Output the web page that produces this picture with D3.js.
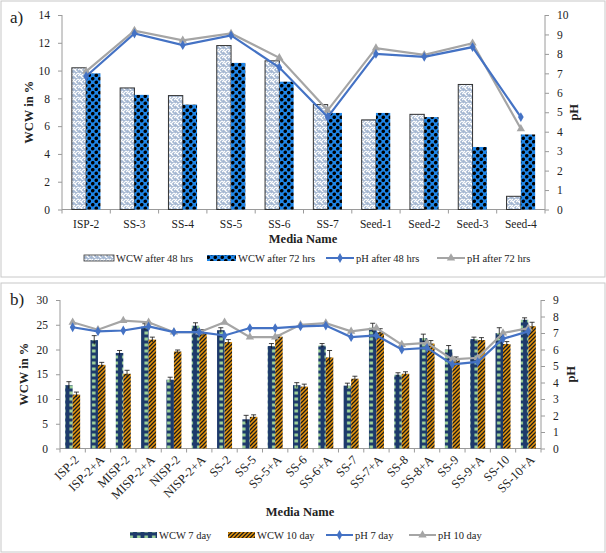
<!DOCTYPE html>
<html lang="en">
<head>
<meta charset="UTF-8">
<title>WCW and pH</title>
<script src="https://cdnjs.cloudflare.com/ajax/libs/d3/7.8.5/d3.min.js"></script>
<style>
    * { margin: 0; padding: 0; box-sizing: border-box; }
    body { background: #ffffff; width: 606px; height: 553px; overflow: hidden; }
    svg text { font-family: "Liberation Serif", "DejaVu Serif", serif; fill: #222; }
    .axis path, .axis line { stroke: #9a9a9a; }
</style>
</head>
<body>
<svg id="chart" width="606" height="553"></svg>
<script>
    // Panel a data
    const mediaA = ["ISP-2", "SS-3", "SS-4", "SS-5", "SS-6", "SS-7", "Seed-1", "Seed-2", "Seed-3", "Seed-4"];
    const wcw48 = [10.2, 8.75, 8.2, 11.8, 10.7, 7.55, 6.45, 6.85, 9.0, 0.95];
    const wcw72 = [9.8, 8.25, 7.55, 10.55, 9.2, 6.95, 6.95, 6.65, 4.5, 5.4];
    const ph48 = [6.85, 9.05, 8.45, 8.95, 7.3, 4.75, 8.0, 7.85, 8.35, 4.75];
    const ph72 = [7.1, 9.2, 8.7, 9.05, 7.8, 5.1, 8.3, 7.95, 8.55, 4.15];
    const leftTicksA = [0, 2, 4, 6, 8, 10, 12, 14];
    const rightTicksA = [0, 1, 2, 3, 4, 5, 6, 7, 8, 9, 10];

    // Panel b data
    const mediaB = ["ISP-2", "ISP-2+A", "MISP-2", "MISP-2+A", "NISP-2", "NISP-2+A", "SS-2", "SS-5", "SS-5+A",
        "SS-6", "SS-6+A", "SS-7", "SS-7+A", "SS-8", "SS-8+A", "SS-9", "SS-9+A", "SS-10", "SS-10+A"];
    const wcw7 = [12.8, 21.9, 19.3, 24.6, 13.9, 24.8, 23.9, 5.9, 20.7, 12.8, 20.8, 12.7, 24.4, 14.9, 22.3, 20.0, 22.1, 23.3, 26.0];
    const wcw10 = [10.9, 16.9, 15.1, 22.0, 19.6, 23.4, 21.5, 6.4, 22.6, 12.5, 18.4, 14.1, 23.5, 15.1, 21.2, 17.8, 21.9, 21.1, 24.7];
    const err7 = [0.7, 0.9, 0.5, 0.6, 0.5, 0.6, 0.5, 0.8, 0.5, 0.5, 0.4, 0.5, 0.9, 0.4, 0.8, 0.8, 0.4, 1.1, 0.4];
    const err10 = [0.5, 0.5, 0.7, 0.5, 0.3, 0.6, 0.5, 0.4, 0.3, 0.5, 1.4, 0.5, 0.7, 0.4, 0.6, 0.7, 0.5, 0.5, 0.8];
    const ph7 = [7.35, 7.1, 7.15, 7.4, 7.05, 7.05, 6.85, 7.3, 7.3, 7.4, 7.45, 6.75, 6.85, 6.0, 6.1, 5.1, 5.25, 6.65, 7.1];
    const ph10 = [7.65, 7.2, 7.75, 7.65, 7.05, 7.05, 7.65, 6.75, 6.75, 7.5, 7.6, 7.1, 7.3, 6.3, 6.4, 5.4, 5.5, 7.0, 7.3];
    const leftTicksB = [0, 5, 10, 15, 20, 25, 30];
    const rightTicksB = [0, 1, 2, 3, 4, 5, 6, 7, 8, 9];

    const svg = d3.select("#chart");
    const defs = svg.append("defs");

    // Fill patterns
    const pZig = defs.append("pattern").attr("id", "zig").attr("patternUnits", "userSpaceOnUse")
        .attr("width", 6).attr("height", 6);
    pZig.append("rect").attr("width", 6).attr("height", 6).attr("fill", "#a6b8d2");
    pZig.append("path").attr("d", "M0,1 L3,4 L6,1 M0,4 L3,1 M3,4 L6,7").attr("stroke", "#ffffff")
        .attr("stroke-width", 1.2).attr("fill", "none");

    const pDot = defs.append("pattern").attr("id", "dotblue").attr("patternUnits", "userSpaceOnUse")
        .attr("width", 7).attr("height", 7);
    pDot.append("rect").attr("width", 7).attr("height", 7).attr("fill", "#1f86e8");
    pDot.append("circle").attr("cx", 1.75).attr("cy", 1.75).attr("r", 1.8).attr("fill", "#000");
    pDot.append("circle").attr("cx", 5.25).attr("cy", 5.25).attr("r", 1.8).attr("fill", "#000");

    const pNavy = defs.append("pattern").attr("id", "navy").attr("patternUnits", "userSpaceOnUse")
        .attr("width", 7.5).attr("height", 6);
    pNavy.append("rect").attr("width", 7.5).attr("height", 6).attr("fill", "#1d3a6b");
    pNavy.append("rect").attr("x", 2).attr("y", 1.5).attr("width", 3.5).attr("height", 3).attr("fill", "#9fd39a");

    const pHatch = defs.append("pattern").attr("id", "hatch").attr("patternUnits", "userSpaceOnUse")
        .attr("width", 4).attr("height", 4);
    pHatch.append("rect").attr("width", 4).attr("height", 4).attr("fill", "#e8960c");
    pHatch.append("path").attr("d", "M-1,1 L1,-1 M0,4 L4,0 M3,5 L5,3").attr("stroke", "#1a1a1a").attr("stroke-width", 1.3);

    // Panel frames
    svg.append("rect").attr("x", 1).attr("y", 1).attr("width", 604).attr("height", 276)
        .attr("fill", "none").attr("stroke", "#c8c8c8");
    svg.append("rect").attr("x", 1).attr("y", 283).attr("width", 604).attr("height", 269)
        .attr("fill", "none").attr("stroke", "#c8c8c8");

    function diamond(g, x, y, color) {
        g.append("path").attr("d", d3.symbol(d3.symbolDiamond, 28)())
            .attr("transform", `translate(${x},${y})`).attr("fill", color);
    }
    function triangle(g, x, y, color) {
        g.append("path").attr("d", d3.symbol(d3.symbolTriangle, 30)())
            .attr("transform", `translate(${x},${y})`).attr("fill", color);
    }

    function drawPanel(cfg) {
        const g = svg.append("g");
        const x = d3.scaleBand().domain(cfg.cats).range([cfg.x0, cfg.x1]);
        const yL = d3.scaleLinear().domain(cfg.leftDomain).range([cfg.y1, cfg.y0]);
        const yR = d3.scaleLinear().domain(cfg.rightDomain).range([cfg.y1, cfg.y0]);
        const bw = cfg.barW;

        // Axes
        const axL = g.append("g").attr("class", "axis").attr("transform", `translate(${cfg.x0},0)`)
            .call(d3.axisLeft(yL).tickValues(cfg.leftTicks).tickSize(4).tickPadding(8));
        const axR = g.append("g").attr("class", "axis").attr("transform", `translate(${cfg.x1},0)`)
            .call(d3.axisRight(yR).tickValues(cfg.rightTicks).tickSize(4).tickPadding(8));
        [axL, axR].forEach(a => {
            a.select(".domain").attr("d", `M0,${cfg.y0}V${cfg.y1}`);
            a.selectAll("text").style("font-size", cfg.tickFont + "px").attr("fill", "#222");
        });

        // x axis line + boundary ticks
        g.append("line").attr("x1", cfg.x0).attr("x2", cfg.x1).attr("y1", cfg.y1).attr("y2", cfg.y1)
            .attr("stroke", "#9a9a9a");
        const bounds = cfg.cats.map(c => x(c)).concat([cfg.x1]);
        g.selectAll(".bt").data(bounds).enter().append("line")
            .attr("x1", d => d).attr("x2", d => d).attr("y1", cfg.y1).attr("y2", cfg.y1 + 4)
            .attr("stroke", "#9a9a9a");

        // Bars
        const s1 = cfg.bars[0], s2 = cfg.bars[1];
        cfg.cats.forEach((c, i) => {
            const cx = x(c) + x.bandwidth() / 2;
            g.append("rect").attr("x", cx - bw).attr("y", yL(s1.values[i])).attr("width", bw)
                .attr("height", yL(0) - yL(s1.values[i])).attr("fill", `url(#${s1.pattern})`)
                .attr("stroke", s1.stroke).attr("stroke-width", s1.stroke === "none" ? 0 : 1);
            g.append("rect").attr("x", cx).attr("y", yL(s2.values[i])).attr("width", bw)
                .attr("height", yL(0) - yL(s2.values[i])).attr("fill", `url(#${s2.pattern})`)
                .attr("stroke", s2.stroke).attr("stroke-width", s2.stroke === "none" ? 0 : 1);
        });

        // Error bars
        if (cfg.errors) {
            cfg.errors.forEach((errs, k) => {
                cfg.cats.forEach((c, i) => {
                    const cx = x(c) + x.bandwidth() / 2 + (k === 0 ? -bw / 2 : bw / 2);
                    const v = cfg.bars[k].values[i];
                    const top = yL(v + errs[i]), bot = yL(v - errs[i]);
                    g.append("line").attr("x1", cx).attr("x2", cx).attr("y1", top).attr("y2", bot)
                        .attr("stroke", "#111").attr("stroke-width", 0.8);
                    g.append("line").attr("x1", cx - 2.5).attr("x2", cx + 2.5).attr("y1", top).attr("y2", top)
                        .attr("stroke", "#111").attr("stroke-width", 0.8);
                });
            });
        }

        // pH lines (second one drawn first so blue sits on top like the reference)
        const line = d3.line().x((d, i) => x(cfg.cats[i]) + x.bandwidth() / 2).y(d => yR(d));
        const l2 = cfg.lines[1], l1 = cfg.lines[0];
        g.append("path").datum(l2.values).attr("d", line).attr("fill", "none")
            .attr("stroke", l2.color).attr("stroke-width", 2.2);
        l2.values.forEach((v, i) => triangle(g, x(cfg.cats[i]) + x.bandwidth() / 2, yR(v), l2.color));
        g.append("path").datum(l1.values).attr("d", line).attr("fill", "none")
            .attr("stroke", l1.color).attr("stroke-width", 2.2);
        l1.values.forEach((v, i) => diamond(g, x(cfg.cats[i]) + x.bandwidth() / 2, yR(v), l1.color));

        // Category labels
        if (cfg.rotate) {
            cfg.cats.forEach(c => {
                const cx = x(c) + x.bandwidth() / 2;
                g.append("text").attr("transform", `translate(${cx + 4},${cfg.y1 + 9}) rotate(-45)`)
                    .attr("text-anchor", "end").attr("dy", "0.35em").style("font-size", cfg.catFont + "px").text(c);
            });
        } else {
            cfg.cats.forEach(c => {
                g.append("text").attr("x", x(c) + x.bandwidth() / 2).attr("y", cfg.y1 + 18)
                    .attr("text-anchor", "middle").style("font-size", cfg.catFont + "px").text(c);
            });
        }

        // Titles
        g.append("text").attr("x", cfg.titleX).attr("y", cfg.titleY).attr("text-anchor", "middle")
            .style("font-size", "12.5px").style("font-weight", "bold").text("Media Name");
        g.append("text").attr("transform", `translate(${cfg.yTitleLX},${(cfg.y0 + cfg.y1) / 2}) rotate(-90)`)
            .attr("text-anchor", "middle").style("font-size", "12.5px").style("font-weight", "bold").text("WCW in %");
        g.append("text").attr("transform", `translate(${cfg.yTitleRX},${(cfg.y0 + cfg.y1) / 2}) rotate(-90)`)
            .attr("text-anchor", "middle").style("font-size", "12.5px").style("font-weight", "bold").text("pH");
        g.append("text").attr("x", cfg.tagX).attr("y", cfg.tagY).style("font-size", "17px").text(cfg.tag);

        // Legend
        const lg = g.append("g");
        const ly = cfg.legendY;
        cfg.legend.forEach(item => {
            const lx = item.x;
            if (item.type === "bar") {
                lg.append("rect").attr("x", lx).attr("y", ly - 3).attr("width", item.w).attr("height", 6)
                    .attr("fill", `url(#${item.pattern})`).attr("stroke", item.stroke)
                    .attr("stroke-width", item.stroke === "none" ? 0 : 0.8);
            } else {
                lg.append("line").attr("x1", lx).attr("x2", lx + item.w).attr("y1", ly).attr("y2", ly)
                    .attr("stroke", item.color).attr("stroke-width", 2);
                if (item.marker === "diamond") diamond(lg, lx + item.w / 2, ly, item.color);
                else triangle(lg, lx + item.w / 2, ly, item.color);
            }
            lg.append("text").attr("x", lx + item.w + 2).attr("y", ly).attr("dy", "0.35em")
                .style("font-size", "10.5px").text(item.label);
        });
    }

    drawPanel({
        cats: mediaA, x0: 62, x1: 545, y0: 15, y1: 209.5,
        leftDomain: [0, 14], rightDomain: [0, 10], leftTicks: leftTicksA, rightTicks: rightTicksA,
        barW: 14.3, tickFont: 11.5, catFont: 11.5, rotate: false,
        bars: [
            { values: wcw48, pattern: "zig", stroke: "#333" },
            { values: wcw72, pattern: "dotblue", stroke: "none" }
        ],
        lines: [
            { values: ph48, color: "#4472c4" },
            { values: ph72, color: "#a5a5a5" }
        ],
        titleX: 303, titleY: 243, yTitleLX: 33, yTitleRX: 578, tag: "a)", tagX: 10, tagY: 23,
        legendY: 258,
        legend: [
            { type: "bar", x: 84, w: 30, pattern: "zig", stroke: "#333", label: "WCW after 48 hrs" },
            { type: "bar", x: 207, w: 29, pattern: "dotblue", stroke: "none", label: "WCW after 72 hrs" },
            { type: "line", x: 326, w: 28, color: "#4472c4", marker: "diamond", label: "pH after 48 hrs" },
            { type: "line", x: 437, w: 28, color: "#a5a5a5", marker: "triangle", label: "pH after 72 hrs" }
        ]
    });

    drawPanel({
        cats: mediaB, x0: 60, x1: 541, y0: 300, y1: 448.5,
        leftDomain: [0, 30], rightDomain: [0, 9], leftTicks: leftTicksB, rightTicks: rightTicksB,
        barW: 7.5, tickFont: 11.5, catFont: 12.5, rotate: true,
        bars: [
            { values: wcw7, pattern: "navy", stroke: "none" },
            { values: wcw10, pattern: "hatch", stroke: "none" }
        ],
        errors: [err7, err10],
        lines: [
            { values: ph7, color: "#4472c4" },
            { values: ph10, color: "#a5a5a5" }
        ],
        titleX: 300, titleY: 516, yTitleLX: 28, yTitleRX: 575, tag: "b)", tagX: 10, tagY: 305,
        legendY: 535,
        legend: [
            { type: "bar", x: 130, w: 27, pattern: "navy", stroke: "none", label: "WCW 7 day" },
            { type: "bar", x: 228, w: 27, pattern: "hatch", stroke: "none", label: "WCW 10 day" },
            { type: "line", x: 326, w: 27, color: "#4472c4", marker: "diamond", label: "pH 7 day" },
            { type: "line", x: 409, w: 27, color: "#a5a5a5", marker: "triangle", label: "pH 10 day" }
        ]
    });
</script>
</body>
</html>
